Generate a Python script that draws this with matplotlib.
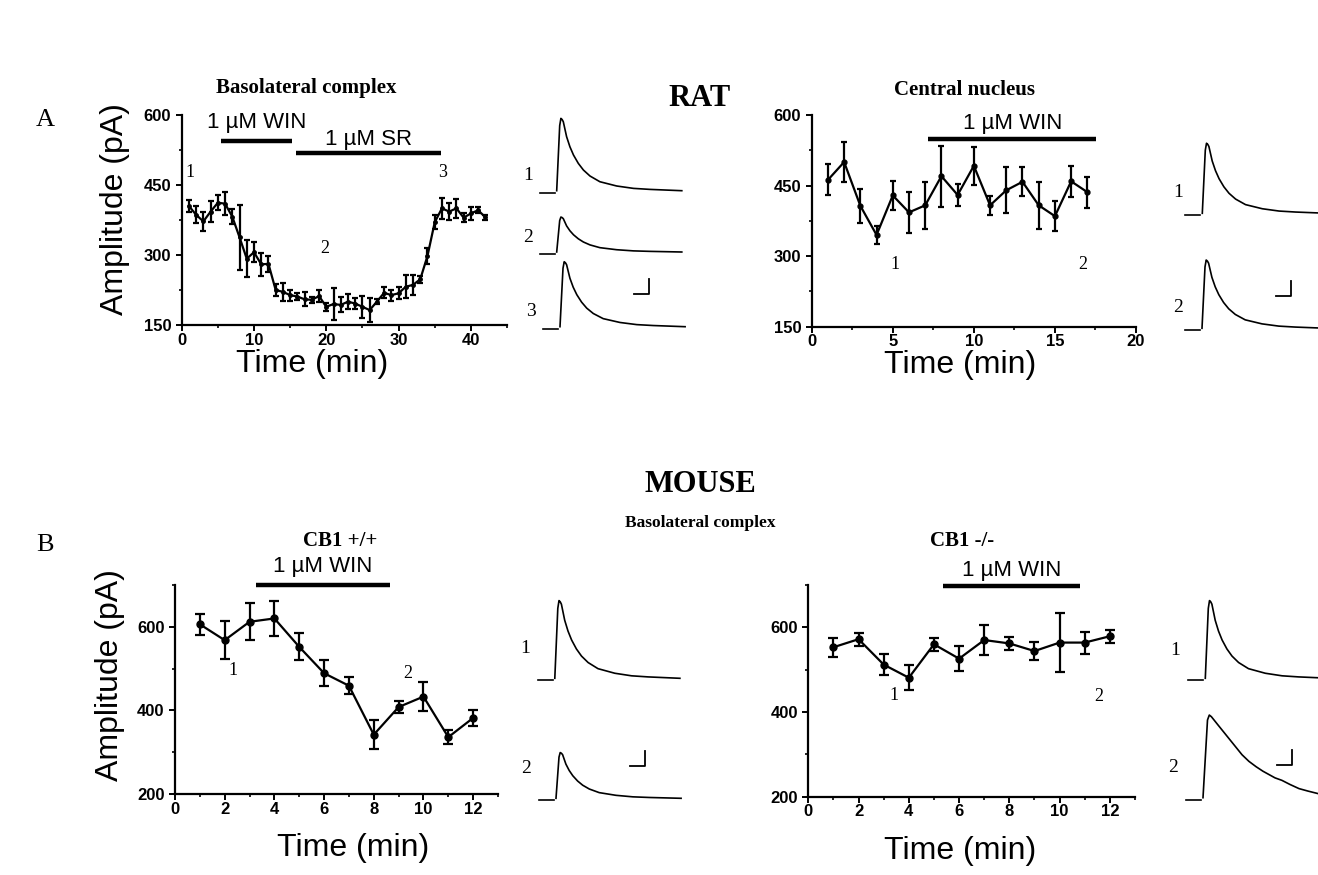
import matplotlib
matplotlib.use("Agg")
import matplotlib.pyplot as plt
from matplotlib.ticker import MultipleLocator

plt.rcParams["font.family"] = ["Liberation Sans", "DejaVu Sans"]

W, H = 1318, 875

# --- time courses (min, pA, SEM) ---
bla_rat_t = list(range(1, 43))
bla_rat_amp = [405, 386, 372, 393, 412, 410, 382, 338, 292, 306, 280, 281, 225, 221,
               214, 211, 205, 204, 212, 189, 195, 193, 200, 196, 189, 182, 200, 219,
               214, 218, 232, 236, 248, 298, 370, 400, 393, 400, 380, 389, 396, 381]
bla_rat_err = [12, 18, 20, 22, 16, 25, 16, 70, 40, 22, 25, 17, 13, 20, 12, 7, 15, 6,
               12, 9, 35, 16, 16, 12, 23, 25, 6, 12, 12, 13, 25, 22, 8, 18, 15, 23,
               18, 20, 10, 14, 7, 5]

cea_rat_t = list(range(1, 18))
cea_rat_amp = [462, 500, 407, 345, 429, 393, 408, 470, 430, 492, 408, 440, 458, 408,
               385, 459, 436]
cea_rat_err = [33, 42, 36, 20, 31, 44, 50, 65, 24, 40, 20, 49, 31, 50, 32, 33, 33]

mouse_t = list(range(1, 13))
wt_amp = [606, 568, 612, 620, 552, 489, 459, 342, 408, 433, 336, 382]
wt_err = [25, 45, 44, 42, 32, 31, 20, 35, 14, 35, 16, 19]
ko_amp = [553, 572, 512, 481, 560, 526, 570, 562, 544, 564, 564, 579]
ko_err = [23, 15, 25, 29, 15, 30, 35, 16, 21, 69, 26, 15]

# drug application periods (start, end, bar level)
bla_win = (5.5, 15.3, 545)
bla_sr = (15.8, 35.9, 518)
cea_win = (7.2, 17.55, 549)
wt_win = (3.24, 8.66, 700)
ko_win = (5.37, 10.8, 698)

# --- example EPSC traces: sampled normalised shape (ms) and peaks (pA) ---
trace_t = [0, 1.0, 1.4, 1.8, 2.2, 3.3, 4.4, 5.6, 7.2, 8.9, 11.1, 14.4, 20, 25.6, 31.1,
           41.7]
trace_shape = [0, 0.9, 1.0, 0.985, 0.954, 0.747, 0.608, 0.493, 0.378, 0.286, 0.203,
               0.124, 0.065, 0.032, 0.018, 0.0]
slow_t = [0, 1.5, 2.1, 2.8, 5.0, 7.0, 9.0, 11.0, 13.0, 15.3, 17.7, 20.0, 22.0, 24.0,
          26.3, 29.0, 32.0, 35.0, 38.3, 41.7]
slow_shape = [0, 0.94, 1.0, 0.98, 0.88, 0.79, 0.70, 0.61, 0.52, 0.44, 0.375, 0.32,
              0.28, 0.24, 0.21, 0.16, 0.11, 0.08, 0.05, 0.03]
bla_trace_peaks = [482, 233, 433]
cea_trace_peaks = [467, 455]
wt_trace_peaks = [518, 305]
ko_trace_peaks = [518, 551]

MS_PX = 3.0    # px per ms
PA_PX = 0.15   # px per pA

fig = plt.figure(figsize=(W / 100, H / 100), dpi=100)


def px_axes(x0, y0, x1, y1):
    return fig.add_axes([x0 / W, 1 - y1 / H, (x1 - x0) / W, (y1 - y0) / H])


def time_course(box, t, amp, err, xlim, xmaj, xmin, ylim, ymaj, ymin, ms, cap):
    ax = px_axes(*box)
    ax.errorbar(t, amp, yerr=err, color="black", lw=1.6, marker="o", ms=ms,
                elinewidth=1.6, capsize=cap, capthick=1.6)
    ax.set_xlim(*xlim)
    ax.set_ylim(*ylim)
    ax.xaxis.set_major_locator(MultipleLocator(xmaj))
    ax.xaxis.set_minor_locator(MultipleLocator(xmin))
    ax.yaxis.set_major_locator(MultipleLocator(ymaj))
    ax.yaxis.set_minor_locator(MultipleLocator(ymin))
    for s in ("top", "right"):
        ax.spines[s].set_visible(False)
    for s in ("left", "bottom"):
        ax.spines[s].set_linewidth(1.6)
    ax.tick_params(which="major", direction="out", length=4, width=1.4, labelsize=12)
    ax.tick_params(axis="x", which="major", pad=1.5)
    ax.tick_params(axis="y", which="major", pad=3.5)
    ax.tick_params(which="minor", direction="out", length=2.5, width=1.2)
    for lab in ax.get_xticklabels() + ax.get_yticklabels():
        lab.set_fontweight("bold")
    ax.patch.set_visible(False)
    return ax


def drug_bar(ax, period, label, ty):
    x0, x1, y = period
    ax.plot([x0, x1], [y, y], color="black", lw=3.2, clip_on=False, solid_capstyle="butt")
    ax.text((x0 + x1) / 2, ty, label, ha="center", va="bottom", fontsize=16)


def draw_trace(onset, base, t, shape, peak, label, ldx, ldy):
    ax = px_axes(onset - 40, base - 95, onset + 135, base + 10)
    ax.set_xlim(-40 / MS_PX, 135 / MS_PX)
    ax.set_ylim(-10 / PA_PX, 95 / PA_PX)
    ax.axis("off")
    ax.plot(t, [s * peak for s in shape], color="black", lw=1.2, clip_on=False)
    ax.plot([-5.7, -0.7], [-12, -12], color="black", lw=1.2)
    ax.text(ldx / MS_PX, ldy / PA_PX, label, ha="center", va="center", fontsize=14,
            family="Liberation Serif")
    return ax


def scale_bar(ax):
    ax.plot([24.5, 29.5, 29.5], [215, 215, 315], color="black", lw=1.3)


def serif(x, y, s, size, weight="bold"):
    fig.text(x / W, 1 - y / H, s, ha="center", va="center", fontsize=size,
             fontweight=weight, family="Liberation Serif")


# ---------------- RAT: basolateral complex ----------------
ax = time_course((181.7, 115, 507, 325), bla_rat_t, bla_rat_amp, bla_rat_err,
                 (0, 45), 10, 5, (150, 600), 150, 75, 2.5, 2.5)
drug_bar(ax, bla_win, "1 µM WIN", 562)
drug_bar(ax, bla_sr, "1 µM SR", 524)
for s, x, y in (("1", 1.15, 476), ("2", 19.8, 313), ("3", 36.1, 476)):
    ax.text(x, y, s, ha="center", va="center", fontsize=13, family="Liberation Serif")
ax.text(0.40, -0.185, "Time (min)", transform=ax.transAxes, ha="center", va="center",
        fontsize=23)
ax.text(-0.205, 0.55, "Amplitude (pA)", transform=ax.transAxes, ha="center",
        va="center", rotation=90, fontsize=23)

for peak, lab, onset, base in zip(bla_trace_peaks, ["1", "2", "3"],
                                  [556.7, 556.7, 560], [190.7, 252, 326.7]):
    tax = draw_trace(onset, base, trace_t, trace_shape, peak, lab, -28.7, 15)
scale_bar(tax)

# ---------------- RAT: central nucleus ----------------
ax = time_course((811.7, 115, 1136, 326.7), cea_rat_t, cea_rat_amp, cea_rat_err,
                 (0, 20), 5, 2.5, (150, 600), 150, 75, 3.5, 2.5)
drug_bar(ax, cea_win, "1 µM WIN", 560)
for s, x, y in (("1", 5.14, 283), ("2", 16.7, 283)):
    ax.text(x, y, s, ha="center", va="center", fontsize=13, family="Liberation Serif")
ax.text(0.457, -0.18, "Time (min)", transform=ax.transAxes, ha="center", va="center",
        fontsize=23)

for peak, lab, onset, base in zip(cea_trace_peaks, ["1", "2"],
                                  [1202.3, 1202], [213.3, 328.3]):
    tax = draw_trace(onset, base, trace_t, trace_shape, peak, lab, -24, 21)
scale_bar(tax)

# ---------------- MOUSE: CB1 +/+ ----------------
ax = time_course((175, 585, 498, 794), mouse_t, wt_amp, wt_err,
                 (0, 13), 2, 1, (200, 700), 200, 100, 5, 3.5)
drug_bar(ax, wt_win, "1 µM WIN", 718)
for s, x, y in (("1", 2.33, 495), ("2", 9.38, 488)):
    ax.text(x, y, s, ha="center", va="center", fontsize=13, family="Liberation Serif")
ax.text(0.55, -0.26, "Time (min)", transform=ax.transAxes, ha="center", va="center",
        fontsize=23)
ax.text(-0.2, 0.57, "Amplitude (pA)", transform=ax.transAxes, ha="center",
        va="center", rotation=90, fontsize=23)

for peak, lab, onset, base in zip(wt_trace_peaks, ["1", "2"],
                                  [554.8, 556], [678.3, 798.3]):
    tax = draw_trace(onset, base, trace_t, trace_shape, peak, lab, -30, 30)
scale_bar(tax)

# ---------------- MOUSE: CB1 -/- ----------------
ax = time_course((808.3, 585, 1135, 796.7), mouse_t, ko_amp, ko_err,
                 (0, 13), 2, 1, (200, 700), 200, 100, 5, 3.5)
drug_bar(ax, ko_win, "1 µM WIN", 710)
for s, x, y in (("1", 3.42, 439), ("2", 11.55, 437)):
    ax.text(x, y, s, ha="center", va="center", fontsize=13, family="Liberation Serif")
ax.text(0.464, -0.255, "Time (min)", transform=ax.transAxes, ha="center", va="center",
        fontsize=23)

tax = draw_trace(1205.3, 678.3, trace_t, trace_shape, ko_trace_peaks[0], "1", -30, 28)
tax = draw_trace(1203, 797.7, slow_t, slow_shape, ko_trace_peaks[1], "2", -30, 30)
scale_bar(tax)

# ---------------- headings ----------------
serif(45, 120, "A", 19, "normal")
serif(45, 545, "B", 19, "normal")
serif(700, 99, "RAT", 22)
serif(306, 88, "Basolateral complex", 15)
serif(965, 90, "Central nucleus", 15)
serif(700, 485, "MOUSE", 22)
serif(700, 523, "Basolateral complex", 12.5)
serif(340, 541, "CB1 +/+", 15)
serif(962, 541, "CB1 -/-", 15)

fig.savefig("out.png", dpi=100, facecolor="white")
